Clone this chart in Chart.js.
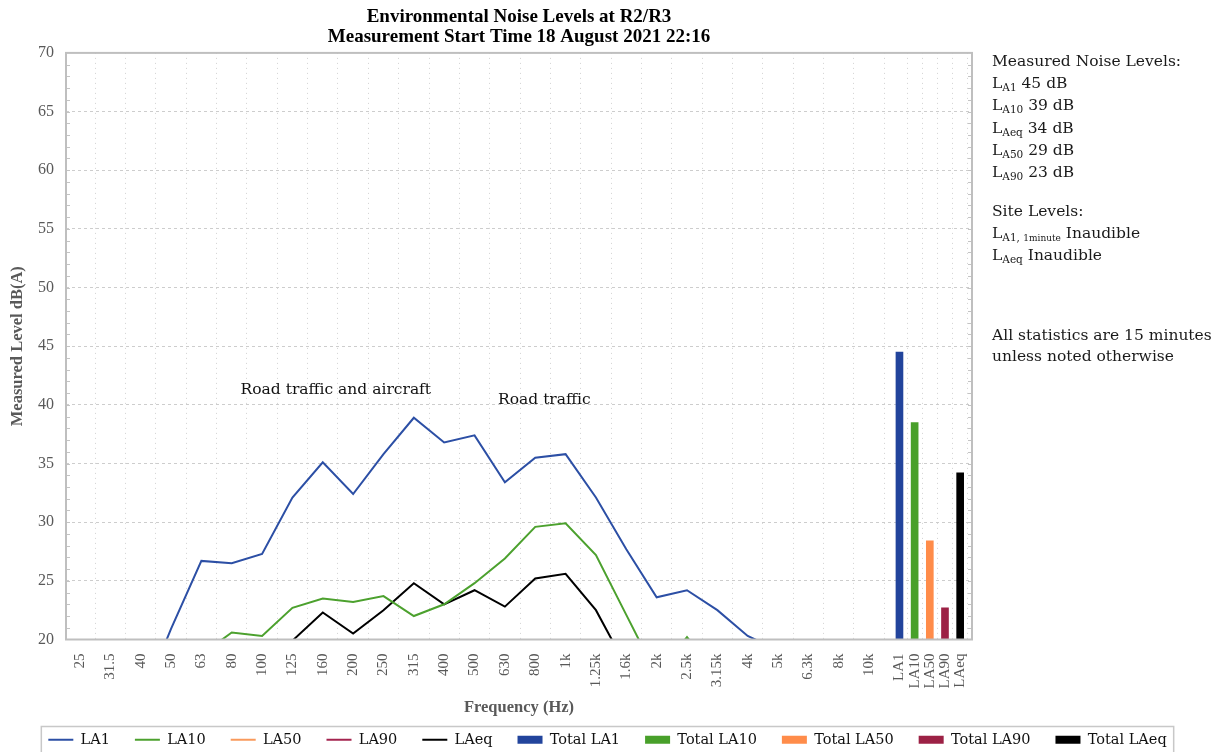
<!DOCTYPE html>
<html>
<head>
<meta charset="utf-8">
<script src="https://cdn.jsdelivr.net/npm/chart.js@4.4.1/dist/chart.umd.min.js"></script>
<style>
  html, body { margin: 0; padding: 0; background: #fff; }
  #wrap { position: relative; width: 1215px; height: 752px; overflow: hidden; }
  .panel { position: absolute; left: 992px; font-family: "DejaVu Serif"; font-size: 15.5px; color: #1a1a1a; line-height: 22.2px; white-space: nowrap; }
  .s { font-size: 10.5px; position: relative; top: 3px; line-height: 0; }
  .ss { font-size: 9px; }
</style>
</head>
<body>
<div id="wrap">
  <canvas id="noiseChart" width="1215" height="752"></canvas>

  <div class="panel" style="top:50px">
    Measured Noise Levels:<br>
    L<span class="s">A1</span> 45 dB<br>
    L<span class="s">A10</span> 39 dB<br>
    L<span class="s">Aeq</span> 34 dB<br>
    L<span class="s">A50</span> 29 dB<br>
    L<span class="s">A90</span> 23 dB
  </div>
  <div class="panel" style="top:200px">
    Site Levels:<br>
    L<span class="s">A1, <span class="ss">1minute</span></span> Inaudible<br>
    L<span class="s">Aeq</span> Inaudible
  </div>
  <div class="panel" style="top:325px; line-height:20.5px">
    All statistics are 15 minutes<br>
    unless noted otherwise
  </div>
</div>

<script>
// 1/3 octave band centre frequencies
const freqLabels = ['25', '31.5', '40', '50', '63', '80', '100', '125', '160', '200', '250', '315', '400',
    '500', '630', '800', '1k', '1.25k', '1.6k', '2k', '2.5k', '3.15k', '4k', '5k', '6.3k', '8k', '10k'];

// Spectrum values, dB(A) (values below 20 fall under the axis)
const la1  = [12.5, 13.8, 14.6, 20.9, 26.7, 26.5, 27.3, 32.1, 35.1, 32.4, 35.8, 38.9, 36.8, 37.4,
    33.4, 35.5, 35.8, 32.1, 27.7, 23.6, 24.2, 22.5, 20.3, 19.1, 15.1, 12.4, 10.2];
const la10 = [10.5, 11.8, 13.2, 15.6, 18.7, 20.6, 20.3, 22.7, 23.5, 23.2, 23.7, 22.0, 23.0, 24.8,
    26.9, 29.6, 29.9, 27.2, 22.1, 17.0, 20.2, 17.0, 15.1, 13.0, 10.5, 8.2, 6.5];
const la50 = [6.5, 7.8, 9.0, 11.4, 13.6, 15.0, 15.2, 16.8, 17.6, 17.2, 17.9, 17.0, 17.6, 18.6,
    19.0, 19.3, 19.2, 18.0, 15.6, 12.8, 12.0, 10.9, 9.4, 7.8, 6.1, 4.9, 4.0];
const la90 = [3.5, 4.8, 6.0, 8.1, 10.0, 11.2, 11.6, 12.9, 13.6, 13.3, 13.9, 13.2, 13.8, 14.1,
    13.5, 13.0, 12.6, 11.2, 9.5, 7.4, 6.5, 5.2, 4.1, 3.0, 2.2, 1.5, 1.0];
const laeq = [9.2, 10.6, 12.1, 15.0, 17.2, 18.1, 18.5, 19.9, 22.3, 20.5, 22.5, 24.8, 23.0, 24.2,
    22.8, 25.2, 25.6, 22.5, 17.7, 15.2, 16.0, 14.9, 13.0, 11.2, 9.0, 7.3, 6.0];

// Overall levels shown as bars after the spectrum
const statLabels = ['LA1', 'LA10', 'LA50', 'LA90', 'LAeq'];
const statPos = [27, 27.5, 28, 28.5, 29];
const statTotals = [44.5, 38.5, 28.4, 22.7, 34.2];

// Source notes placed in data units
const noteText = ['Road traffic and aircraft', 'Road traffic'];
const noteX = [8.43, 15.3];
const noteY = [41.3, 40.4];

const lineColors = ['#2C4FA5', '#4CA12E', '#F99A5C', '#A4244F', '#000000'];
const barColors = ['#22449C', '#48A02A', '#FF8C4A', '#9C2145', '#000000'];

const tickPos = freqLabels.map((f, i) => i).concat(statPos);
const tickLabels = freqLabels.concat(statLabels);

function pts(arr) {
    return arr.map((v, i) => ({ x: i, y: v }));
}

const seriesNames = ['LA1', 'LA10', 'LA50', 'LA90', 'LAeq'];
const seriesData = [la1, la10, la50, la90, laeq];

const datasets = [];
seriesData.forEach((arr, k) => {
    datasets.push({
        type: 'line',
        label: seriesNames[k],
        data: pts(arr),
        borderColor: lineColors[k],
        backgroundColor: lineColors[k],
        borderWidth: 2,
        pointRadius: 0,
        tension: 0,
        order: 1
    });
});
statTotals.forEach((v, k) => {
    datasets.push({
        type: 'bar',
        label: 'Total ' + statLabels[k],
        data: [{ x: statPos[k], y: v }],
        backgroundColor: barColors[k],
        borderColor: barColors[k],
        borderWidth: 0,
        barThickness: 7,
        grouped: false,
        order: 2
    });
});

// frame, minor ticks and notes
const decorPlugin = {
    id: 'decor',
    afterDatasetsDraw(chart) {
        const { ctx, chartArea: a, scales } = chart;
        const y = scales.y, x = scales.x;
        ctx.save();
        ctx.strokeStyle = '#c4c4c4';
        ctx.lineWidth = 1;
        for (let v = 21; v < 70; v++) {
            const py = Math.round(y.getPixelForValue(v)) + 0.5;
            ctx.beginPath();
            ctx.moveTo(a.left, py); ctx.lineTo(a.left + 4, py);
            ctx.moveTo(a.right, py); ctx.lineTo(a.right - 4, py);
            ctx.stroke();
        }
        ctx.lineWidth = 2;
        ctx.strokeStyle = '#bfbfbf';
        ctx.strokeRect(a.left, a.top, a.right - a.left, a.bottom - a.top);

        ctx.fillStyle = '#111';
        ctx.font = '15.5px "DejaVu Serif"';
        ctx.textAlign = 'center';
        ctx.textBaseline = 'middle';
        noteText.forEach((t, i) => {
            ctx.fillText(t, x.getPixelForValue(noteX[i]), y.getPixelForValue(noteY[i]));
        });
        ctx.restore();
    },
    afterDraw(chart) {
        const boxes = chart.legend.legendHitBoxes;
        if (!boxes || !boxes.length) return;
        const first = boxes[0], last = boxes[boxes.length - 1];
        const ctx = chart.ctx;
        ctx.save();
        ctx.strokeStyle = '#c8c8c8';
        ctx.lineWidth = 1.5;
        ctx.strokeRect(first.left - 7, first.top - 6, last.left + last.width - first.left + 14, 60);
        ctx.restore();
    }
};

const axisGrey = '#595959';

new Chart(document.getElementById('noiseChart'), {
    type: 'line',
    data: { datasets: datasets },
    plugins: [decorPlugin],
    options: {
        responsive: false,
        animation: false,
        layout: { padding: { bottom: -5 } },
        plugins: {
            title: {
                display: true,
                fullSize: false,
                text: ['Environmental Noise Levels at R2/R3', 'Measurement Start Time 18 August 2021 22:16'],
                color: '#000',
                font: { family: 'Liberation Serif', size: 19, weight: 'bold', lineHeight: 1.05 },
                padding: { top: 7, bottom: 6 }
            },
            legend: {
                position: 'bottom',
                labels: {
                    usePointStyle: true,
                    pointStyleWidth: 25,
                    boxHeight: 8,
                    padding: 25,
                    color: '#111',
                    font: { family: 'DejaVu Serif', size: 14.5 },
                    generateLabels(chart) {
                        const items = Chart.defaults.plugins.legend.labels.generateLabels(chart);
                        items.forEach((it, i) => {
                            it.pointStyle = i < 5 ? 'line' : 'rect';
                        });
                        return items;
                    }
                }
            },
            tooltip: { enabled: false }
        },
        scales: {
            x: {
                type: 'linear',
                min: -0.46,
                max: 29.39,
                offset: false,
                afterBuildTicks(axis) {
                    axis.ticks = tickPos.map(v => ({ value: v }));
                },
                afterFit(axis) { axis.height = 68; },
                ticks: {
                    autoSkip: false,
                    minRotation: 90,
                    maxRotation: 90,
                    padding: 14,
                    color: axisGrey,
                    font: { family: 'Liberation Serif', size: 15 },
                    callback: (v, i) => tickLabels[i]
                },
                grid: { color: '#d2d2d2', drawTicks: false, lineWidth: 1 },
                border: { display: false, dash: [1, 4] },
                title: {
                    display: true,
                    text: 'Frequency (Hz)',
                    color: axisGrey,
                    font: { family: 'Liberation Serif', size: 16.5, weight: 'bold', lineHeight: 1.2 },
                    padding: { top: 0, bottom: -10 }
                }
            },
            y: {
                min: 20,
                max: 70,
                afterFit(axis) { axis.width = 66; },
                ticks: {
                    stepSize: 5,
                    padding: 12,
                    color: axisGrey,
                    font: { family: 'Liberation Serif', size: 16 }
                },
                grid: {
                    drawTicks: false,
                    color: c => (c.tick && (c.tick.value === 20 || c.tick.value === 70)) ? 'rgba(0,0,0,0)' : '#cdcdcd'
                },
                border: { display: false, dash: [3, 3] },
                title: {
                    display: true,
                    text: 'Measured Level dB(A)',
                    color: axisGrey,
                    font: { family: 'Liberation Serif', size: 16.5, weight: 'bold', lineHeight: 1.2 },
                    padding: { top: 8, bottom: 0 }
                }
            },
            yR: {
                position: 'right',
                display: true,
                afterFit(axis) { axis.width = 243; },
                ticks: { display: false },
                grid: { display: false },
                border: { display: false }
            }
        }
    }
});
</script>
</body>
</html>
